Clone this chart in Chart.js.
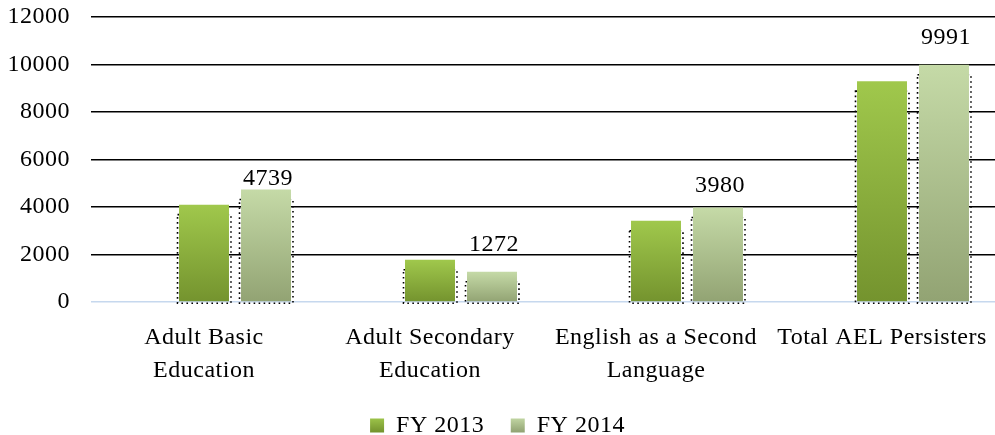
<!DOCTYPE html>
<html>
<head>
<meta charset="utf-8">
<script src="https://cdn.jsdelivr.net/npm/chart.js@4.4.1/dist/chart.umd.min.js"></script>
<style>
  html, body { margin: 0; padding: 0; background: #fff; }
  #wrap { width: 995px; height: 435px; position: relative; }
</style>
</head>
<body>
<div id="wrap"><canvas id="c"></canvas></div>
<script>
const categories = [["Adult Basic", "Education"], ["Adult Secondary", "Education"], ["English as a Second", "Language"], "Total AEL Persisters"];
const spacerSeries = [0, 0, 0, 0];
const fy2013 = [4100, 1780, 3420, 9300];
const fy2014 = [4739, 1272, 3980, 9991];
const seriesNames = ["FY 2013", "FY 2014"];
const yMin = 0, yMax = 12000, yStep = 2000;

const FONT = "'Liberation Serif', 'Times New Roman', serif";
const LS = '0.5px';

const colors = {
  fy2013: ['#a0c84c', '#74932e'],
  fy2014: ['#c5daa7', '#92a373']
};

function gradFill(pair) {
  return function (c) {
    const chart = c.chart;
    if (!chart.chartArea || c.type !== 'data') return pair[0];
    const ys = chart.scales.y;
    const t = ys.getPixelForValue(c.raw);
    const b = ys.getPixelForValue(0);
    const g = chart.ctx.createLinearGradient(0, t, 0, b);
    g.addColorStop(0, pair[0]);
    g.addColorStop(1, pair[1]);
    return g;
  };
}

const letterSpacingPlugin = {
  id: 'ls',
  beforeLayout(chart) { chart.ctx.letterSpacing = LS; },
  beforeDraw(chart) { chart.ctx.letterSpacing = LS; }
};

const dottedPlugin = {
  id: 'dotted',
  beforeDatasetsDraw(chart) {
    const ctx = chart.ctx;
    ctx.save();
    ctx.strokeStyle = '#000';
    ctx.lineWidth = 1.6;
    ctx.setLineDash([1.6, 3.4]);
    [1, 2].forEach(di => {
      chart.getDatasetMeta(di).data.forEach(bar => {
        const w = bar.width;
        const l = bar.x - w / 2 - 1.5;
        const r = bar.x + w / 2 + 2;
        const t = bar.y + 10;
        const b = bar.base + 2;
        ctx.strokeRect(l, t, r - l, b - t);
      });
    });
    ctx.restore();
  }
};

const labelOffsets = [11, 27, 22, 27];
const valueLabelPlugin = {
  id: 'vlabels',
  afterDatasetsDraw(chart) {
    const ctx = chart.ctx;
    ctx.save();
    ctx.letterSpacing = LS;
    ctx.font = "24px " + FONT;
    ctx.fillStyle = '#000';
    ctx.textAlign = 'center';
    ctx.textBaseline = 'middle';
    chart.getDatasetMeta(2).data.forEach((bar, i) => {
      ctx.fillText(String(fy2014[i]), bar.x + 2, bar.y - labelOffsets[i]);
    });
    ctx.restore();
  }
};

Chart.defaults.color = '#000';
Chart.defaults.font.family = FONT;
Chart.defaults.font.size = 24;

new Chart(document.getElementById('c'), {
  type: 'bar',
  data: {
    labels: categories,
    datasets: [
      { label: '', data: spacerSeries, backgroundColor: 'rgba(0,0,0,0)' },
      { label: seriesNames[0], data: fy2013, backgroundColor: gradFill(colors.fy2013) },
      { label: seriesNames[1], data: fy2014, backgroundColor: gradFill(colors.fy2014) }
    ]
  },
  options: {
    responsive: true,
    maintainAspectRatio: false,
    animation: false,
    categoryPercentage: 0.823,
    barPercentage: 0.806,
    layout: { padding: { top: 17, right: 0, left: 0, bottom: -12.5 } },
    scales: {
      x: {
        afterFit(scale) { scale.height = 85; scale.paddingLeft = 0; scale.paddingRight = 0; },
        grid: { display: false, drawTicks: false },
        border: { display: false },
        ticks: { padding: 20, maxRotation: 0, autoSkip: false, font: { size: 24, lineHeight: 1.35 } }
      },
      y: {
        min: yMin, max: yMax,
        afterFit(scale) { scale.width = 91; scale.paddingTop = 0; scale.paddingBottom = 0; },
        grid: {
          drawTicks: false,
          color: c => c.tick && c.tick.value === 0 ? '#c6d8ee' : '#000',
          lineWidth: 1.6
        },
        border: { display: false },
        ticks: { stepSize: yStep, padding: 21, font: { size: 24 }, callback: v => String(v) }
      }
    },
    plugins: {
      tooltip: { enabled: false },
      legend: {
        position: 'bottom',
        labels: {
          boxWidth: 14, boxHeight: 14, padding: 26.5,
          font: { size: 24 },
          filter: item => item.datasetIndex !== 0,
          generateLabels(chart) {
            const items = Chart.defaults.plugins.legend.labels.generateLabels(chart);
            const ctx = chart.ctx;
            items.forEach(it => {
              const pair = it.datasetIndex === 1 ? colors.fy2013 : colors.fy2014;
              const g = ctx.createLinearGradient(0, 417, 0, 432);
              g.addColorStop(0, pair[0]);
              g.addColorStop(1, pair[1]);
              it.fillStyle = g;
              it.lineWidth = 0;
              it.strokeStyle = 'rgba(0,0,0,0)';
            });
            return items;
          }
        }
      }
    }
  },
  plugins: [letterSpacingPlugin, dottedPlugin, valueLabelPlugin]
});
</script>
</body>
</html>
